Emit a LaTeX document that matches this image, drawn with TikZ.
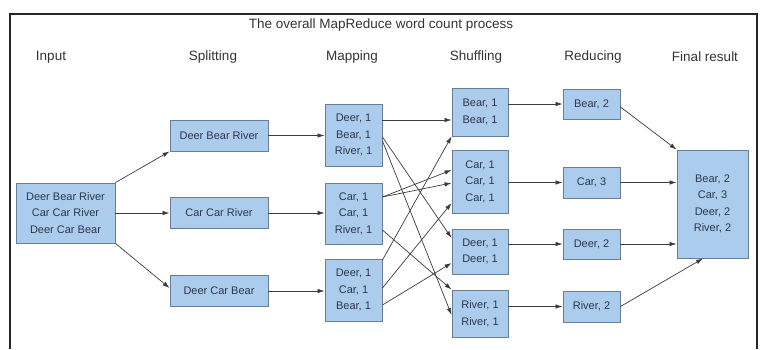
\documentclass[tikz,border=0pt]{standalone}
\usepackage{fontspec}
\setmainfont{Liberation Sans}
\usetikzlibrary{arrows.meta}
\definecolor{boxfill}{RGB}{172,204,238}
\definecolor{boxline}{RGB}{105,125,150}
\definecolor{txt}{RGB}{45,55,75}
\definecolor{conn}{RGB}{60,60,60}
\begin{document}
\begin{tikzpicture}[x=1pt,y=-1pt,
  box/.style={draw=boxline,line width=0.9pt,fill=boxfill,inner sep=0pt,align=center,
    text=txt,font=\fontsize{11}{16.5}\selectfont},
  hdr/.style={text=black!80,font=\fontsize{13.5}{16}\selectfont,inner sep=0pt},
  conn/.style={draw=conn,line width=0.7pt,-{Latex[length=7pt,width=4.5pt]}}]
\useasboundingbox (0,0) rectangle (765,349);
% frame
\draw[line width=1.5pt,black!85] (10,349) -- (10,14) -- (757,14) -- (757,349);
\node[hdr] (title) at (381,25) {The overall MapReduce word count process};
\node[hdr] (h1) at (51,57) {Input};
\node[hdr] (h2) at (213,57) {Splitting};
\node[hdr] (h3) at (352,57) {Mapping};
\node[hdr] (h4) at (476,57) {Shuffling};
\node[hdr] (h5) at (593,57) {Reducing};
\node[hdr] (h6) at (705,57) {Final result};
% boxes
\node[box,minimum width=99pt,minimum height=60pt] (in) at (65.5,213) {Deer Bear River\\Car Car River\\Deer Car Bear};
\node[box,minimum width=98pt,minimum height=31pt] (s1) at (219,135.5) {Deer Bear River};
\node[box,minimum width=98pt,minimum height=31pt] (s2) at (219,213) {Car Car River};
\node[box,minimum width=98pt,minimum height=31pt] (s3) at (219,291) {Deer Car Bear};
\node[box,minimum width=57pt,minimum height=62pt] (m1) at (353.5,135) {Deer, 1\\Bear, 1\\River, 1};
\node[box,minimum width=57pt,minimum height=61pt] (m2) at (353.5,213.5) {Car, 1\\Car, 1\\River, 1};
\node[box,minimum width=57pt,minimum height=62pt] (m3) at (353.5,290) {Deer, 1\\Car, 1\\Bear, 1};
\node[box,minimum width=56pt,minimum height=48pt] (sh1) at (480,112) {Bear, 1\\Bear, 1};
\node[box,minimum width=56pt,minimum height=63pt] (sh2) at (480,181.5) {Car, 1\\Car, 1\\Car, 1};
\node[box,minimum width=56pt,minimum height=45pt] (sh3) at (480,251.5) {Deer, 1\\Deer, 1};
\node[box,minimum width=56pt,minimum height=47pt] (sh4) at (480,313.5) {River, 1\\River, 1};
\node[box,minimum width=57pt,minimum height=30pt] (r1) at (591.5,104) {Bear, 2};
\node[box,minimum width=57pt,minimum height=31pt] (r2) at (591.5,182.5) {Car, 3};
\node[box,minimum width=57pt,minimum height=30pt] (r3) at (591.5,244) {Deer, 2};
\node[box,minimum width=57pt,minimum height=31pt] (r4) at (591.5,306.5) {River, 2};
\node[box,minimum width=71pt,minimum height=108pt] (f) at (712.5,204) {Bear, 2\\Car, 3\\Deer, 2\\River, 2};
% input -> splitting
\draw[conn] (in.north east) -- (s1.south west);
\draw[conn] (in.east) -- (s2.west);
\draw[conn] (in.south east) -- ([yshift=3pt]s3.west);
% splitting -> mapping
\draw[conn] (s1.east) -- (m1.west |- s1.east);
\draw[conn] (s2.east) -- (m2.west |- s2.east);
\draw[conn] (s3.east) -- (m3.west |- s3.east);
% mapping -> shuffling
\draw[conn] ([yshift=15pt]m1.east) -- ([yshift=-8pt]sh1.west);
\draw[conn] ([yshift=-2pt]m1.east) -- ([yshift=13.5pt]sh3.west);
\draw[conn] ([yshift=-6pt]m1.east) -- ([yshift=-1.5pt]sh4.west);
\draw[conn] ([yshift=16.5pt]m2.east) -- ([yshift=11.5pt]sh2.west);
\draw[conn] ([yshift=16.5pt]m2.east) -- ([yshift=-1.5pt]sh2.west);
\draw[conn] ([yshift=-16.5pt]m2.east) -- (sh4.north west);
\draw[conn] ([yshift=30pt]m3.east) -- (sh1.south west);
\draw[conn] ([yshift=2pt]m3.east) -- ([yshift=-21.5pt]sh2.west);
\draw[conn] ([yshift=-15pt]m3.east) -- ([yshift=-11.5pt]sh3.west);
% shuffling -> reducing
\draw[conn] (sh1.east |- r1.west) -- (r1.west);
\draw[conn] (sh2.east |- r2.west) -- (r2.west);
\draw[conn] (sh3.east |- r3.west) -- (r3.west);
\draw[conn] (sh4.east |- r4.west) -- (r4.west);
% reducing -> final
\draw[conn] ([yshift=-3pt]r1.east) -- (f.north west);
\draw[conn] (r2.east) -- (f.west |- r2.east);
\draw[conn] (r3.east) -- (f.west |- r3.east);
\draw[conn] (r4.east) -- ([xshift=-9.5pt]f.south);
\end{tikzpicture}
\end{document}
